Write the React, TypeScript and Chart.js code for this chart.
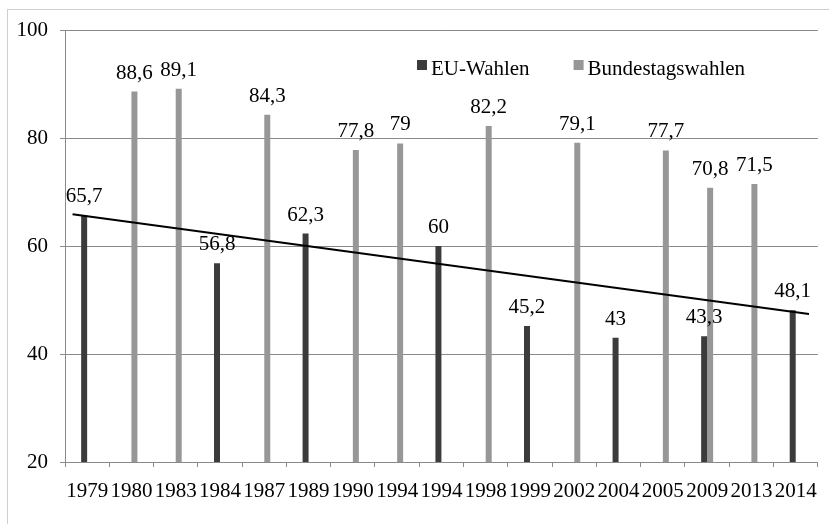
import React, { useEffect, useRef } from 'react';
import { Chart, registerables } from 'chart.js';

Chart.register(...registerables);

const years = ['1979', '1980', '1983', '1984', '1987', '1989', '1990', '1994', '1994', '1998', '1999', '2002', '2004', '2005', '2009', '2013', '2014'];
const euWahlen = [65.7, null, null, 56.8, null, 62.3, null, null, 60, null, 45.2, null, 43, null, 43.3, null, 48.1];
const bundestagswahlen = [null, 88.6, 89.1, null, 84.3, null, 77.8, 79, null, 82.2, null, 79.1, null, 77.7, 70.8, 71.5, null];
const trendX = [0.17, 16.8];
const trendY = [65.9, 47.4];
const yTicks = [20, 40, 60, 80, 100];

const EU_COLOR = '#3b3b3b';
const BT_COLOR = '#979797';
const GRID = '#8a8a8a';
const FONT_FAMILY = "'Liberation Serif', 'Times New Roman', serif";
const FONT_SIZE = 21;
const FONT = { family: FONT_FAMILY, size: FONT_SIZE };

const fmt = (v: number) => String(v).replace('.', ',');

const framePlugin = {
  id: 'frame',
  beforeDraw(chart: any) {
    const { ctx, width, height } = chart;
    ctx.save();
    ctx.fillStyle = '#ffffff';
    ctx.fillRect(0, 0, width, height);
    ctx.strokeStyle = '#cfcfcf';
    ctx.lineWidth = 1;
    ctx.strokeRect(7.5, 9.5, width + 10, height + 10);
    ctx.restore();
  },
};

const labelPlugin = {
  id: 'valueLabels',
  afterDatasetsDraw(chart: any) {
    const { ctx } = chart;
    ctx.save();
    ctx.font = `${FONT_SIZE}px ${FONT_FAMILY}`;
    ctx.fillStyle = '#000';
    ctx.textAlign = 'center';
    ctx.textBaseline = 'alphabetic';
    chart.data.datasets.forEach((ds: any, i: number) => {
      if (ds.type === 'line') return;
      const meta = chart.getDatasetMeta(i);
      meta.data.forEach((el: any, j: number) => {
        const v = ds.data[j];
        if (v === null || v === undefined) return;
        ctx.fillText(fmt(v), el.x, el.y - 13);
      });
    });
    ctx.restore();
  },
};

const legendPlugin = {
  id: 'customLegend',
  afterDraw(chart: any) {
    const { ctx, chartArea } = chart;
    ctx.save();
    ctx.font = `${FONT_SIZE}px ${FONT_FAMILY}`;
    ctx.textAlign = 'left';
    ctx.textBaseline = 'alphabetic';
    let x = chartArea.left + 352;
    const y = chartArea.top + 30;
    chart.data.datasets.forEach((ds: any) => {
      if (ds.type === 'line') return;
      ctx.fillStyle = ds.backgroundColor;
      ctx.fillRect(x, y, 10, 10);
      ctx.fillStyle = '#000';
      ctx.fillText(ds.label, x + 14, y + 15);
      x += 14 + ctx.measureText(ds.label).width + 44;
    });
    ctx.restore();
  },
};

export default function App() {
  const ref = useRef<HTMLCanvasElement | null>(null);
  useEffect(() => {
    document.body.style.margin = '0';
    if (!ref.current) return;
    const chart = new Chart(ref.current, {
      type: 'bar',
      data: {
        labels: years,
        datasets: [
          {
            type: 'line',
            label: 'Trend',
            data: trendX.map((x, i) => ({ x, y: trendY[i] })),
            xAxisID: 'x2',
            borderColor: '#000',
            borderWidth: 2,
            pointRadius: 0,
            fill: false,
            order: -1,
          } as any,
          {
            label: 'EU-Wahlen',
            data: euWahlen,
            backgroundColor: EU_COLOR,
            categoryPercentage: 0.541,
            barPercentage: 1,
          },
          {
            label: 'Bundestagswahlen',
            data: bundestagswahlen,
            backgroundColor: BT_COLOR,
            categoryPercentage: 0.541,
            barPercentage: 1,
          },
        ],
      },
      options: {
        responsive: false,
        animation: false,
        devicePixelRatio: 1,
        layout: { padding: { left: 0, right: 10, top: 30, bottom: 0 } },
        plugins: { legend: { display: false }, tooltip: { enabled: false } },
        scales: {
          x: {
            type: 'category',
            offset: true,
            grid: { display: true, drawOnChartArea: false, drawTicks: true, tickLength: 5, color: GRID, offset: true },
            border: { display: true, color: GRID, width: 1 },
            ticks: { font: FONT, color: '#000', padding: 12, maxRotation: 0, minRotation: 0, autoSkip: false },
            afterFit: (s: any) => { s.height = 62; },
          },
          x2: { type: 'linear', display: false, offset: false, grace: 0, bounds: 'data', min: 0, max: 17 },
          y: {
            min: yTicks[0],
            max: yTicks[yTicks.length - 1],
            afterBuildTicks: (s: any) => { s.ticks = yTicks.map((v) => ({ value: v })); },
            ticks: { font: FONT, color: '#000', padding: 12 },
            grid: { color: GRID, tickLength: 5 },
            border: { display: true, color: GRID },
            afterFit: (s: any) => { s.width = 65; },
          },
        },
      } as any,
      plugins: [framePlugin, labelPlugin, legendPlugin],
    });
    return () => chart.destroy();
  }, []);
  return (
    <div style={{ width: 829, height: 524 }}>
      <canvas ref={ref} width={829} height={524} />
    </div>
  );
}
